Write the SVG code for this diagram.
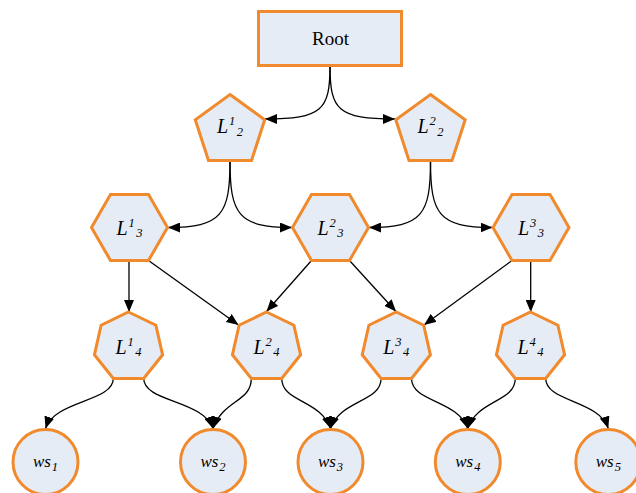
<svg xmlns="http://www.w3.org/2000/svg" width="636" height="493" viewBox="0 0 636 493">
  <style>
    .node { fill: #E6ECF6; stroke: #F08A2C; stroke-width: 3; stroke-linejoin: miter; }
    .edge { fill: none; stroke: #000; stroke-width: 1.3; marker-end: url(#arrow); }
    .root { font-family: "Liberation Serif", "Times New Roman", serif; font-size: 19px; fill: #000; }
    .lbl { font-family: "Liberation Serif", "Times New Roman", serif; font-style: italic; font-size: 20px; fill: #000; }
    .ws { font-family: "Liberation Serif", "Times New Roman", serif; font-style: italic; font-size: 17px; fill: #000; }
    .sm { font-size: 12.5px; }
  </style>
  <defs>
    <marker id="arrow" markerUnits="userSpaceOnUse" markerWidth="12" markerHeight="10" refX="12" refY="5" orient="auto">
      <path d="M0,0 L12,5 L0,10 Z" fill="#000"/>
    </marker>
  </defs>

  <!-- connectors -->
  <g id="connectors">
    <!-- root to level 2 -->
    <path class="edge" d="M330,66 C330,110 322,119 265,119"/>
    <path class="edge" d="M330,66 C330,110 338,119 395,119"/>
    <!-- level 2 to level 3 -->
    <path class="edge" d="M230,161 C230,214 222,227.5 168,227.5"/>
    <path class="edge" d="M230,161 C230,214 238,227.5 292,227.5"/>
    <path class="edge" d="M430.5,161 C430.5,214 422.5,227.5 369,227.5"/>
    <path class="edge" d="M430.5,161 C430.5,214 438.5,227.5 492.5,227.5"/>
    <!-- level 3 to level 4 -->
    <path class="edge" d="M129,261 L129,312"/>
    <path class="edge" d="M148.5,260.5 L238.5,325"/>
    <path class="edge" d="M311.5,260.5 L266.5,311.5"/>
    <path class="edge" d="M349.5,260.5 L396,311.5"/>
    <path class="edge" d="M512,260.5 L424,325"/>
    <path class="edge" d="M530.7,261 L530.7,312"/>
    <!-- level 4 to leaves -->
    <path class="edge" d="M113.3,378.5 C113.3,402 55,400 45.5,428.5"/>
    <path class="edge" d="M143.7,378.5 C143.7,402 203,400 213,428.5"/>
    <path class="edge" d="M251.3,378.5 C251.3,402 223,400 213,428.5"/>
    <path class="edge" d="M281.7,378.5 C281.7,402 321,400 330.5,428.5"/>
    <path class="edge" d="M381.1,378.5 C381.1,402 340,400 330.5,428.5"/>
    <path class="edge" d="M411.5,378.5 C411.5,402 458,400 467.8,428.5"/>
    <path class="edge" d="M515.3,378.5 C515.3,402 477,400 467.8,428.5"/>
    <path class="edge" d="M545.7,378.5 C545.7,402 599,400 608.3,428.5"/>
  </g>

  <!-- root -->
  <g id="root">
    <rect class="node" x="258.5" y="11.5" width="143" height="54"/>
    <text class="root" x="330.5" y="45" text-anchor="middle">Root</text>
  </g>

  <!-- level 2: pentagons -->
  <g id="L2-1">
    <polygon class="node" points="230,94.5 264.7,119.7 251.5,160.5 208.5,160.5 195.3,119.7"/>
    <text class="lbl" x="230" y="133" text-anchor="middle">L<tspan class="sm" dx="1" dy="-8">1</tspan><tspan class="sm" dx="1.5" dy="10.5">2</tspan></text>
  </g>
  <g id="L2-2">
    <polygon class="node" points="430.5,94.5 465.2,119.7 452,160.5 409,160.5 395.8,119.7"/>
    <text class="lbl" x="430.5" y="133" text-anchor="middle">L<tspan class="sm" dx="1" dy="-8">2</tspan><tspan class="sm" dx="1.5" dy="10.5">2</tspan></text>
  </g>

  <!-- level 3: hexagons -->
  <g id="L3-1">
    <polygon class="node" points="91.5,227.5 110.5,194.5 148.5,194.5 167.5,227.5 148.5,260.5 110.5,260.5"/>
    <text class="lbl" x="129.5" y="234.5" text-anchor="middle">L<tspan class="sm" dx="1" dy="-8">1</tspan><tspan class="sm" dx="1.5" dy="10.5">3</tspan></text>
  </g>
  <g id="L3-2">
    <polygon class="node" points="292.5,227.5 311.5,194.5 349.5,194.5 368.5,227.5 349.5,260.5 311.5,260.5"/>
    <text class="lbl" x="330.5" y="234.5" text-anchor="middle">L<tspan class="sm" dx="1" dy="-8">2</tspan><tspan class="sm" dx="1.5" dy="10.5">3</tspan></text>
  </g>
  <g id="L3-3">
    <polygon class="node" points="493,227.5 512,194.5 550,194.5 569,227.5 550,260.5 512,260.5"/>
    <text class="lbl" x="531" y="234.5" text-anchor="middle">L<tspan class="sm" dx="1" dy="-8">3</tspan><tspan class="sm" dx="1.5" dy="10.5">3</tspan></text>
  </g>

  <!-- level 4: heptagons (R = 35) -->
  <g id="L4-1">
    <polygon class="node" points="128.5,312 155.9,325.2 162.6,354.8 143.7,378.5 113.3,378.5 94.4,354.8 101.1,325.2"/>
    <text class="lbl" x="128.5" y="353.5" text-anchor="middle">L<tspan class="sm" dx="1" dy="-8">1</tspan><tspan class="sm" dx="1.5" dy="10.5">4</tspan></text>
  </g>
  <g id="L4-2">
    <polygon class="node" points="266.5,312 293.9,325.2 300.6,354.8 281.7,378.5 251.3,378.5 232.4,354.8 239.1,325.2"/>
    <text class="lbl" x="266.5" y="353.5" text-anchor="middle">L<tspan class="sm" dx="1" dy="-8">2</tspan><tspan class="sm" dx="1.5" dy="10.5">4</tspan></text>
  </g>
  <g id="L4-3">
    <polygon class="node" points="396.3,312 423.7,325.2 430.4,354.8 411.5,378.5 381.1,378.5 362.2,354.8 368.9,325.2"/>
    <text class="lbl" x="396.3" y="353.5" text-anchor="middle">L<tspan class="sm" dx="1" dy="-8">3</tspan><tspan class="sm" dx="1.5" dy="10.5">4</tspan></text>
  </g>
  <g id="L4-4">
    <polygon class="node" points="530.5,312 557.9,325.2 564.6,354.8 545.7,378.5 515.3,378.5 496.4,354.8 503.1,325.2"/>
    <text class="lbl" x="530.5" y="353.5" text-anchor="middle">L<tspan class="sm" dx="1" dy="-8">4</tspan><tspan class="sm" dx="1.5" dy="10.5">4</tspan></text>
  </g>

  <!-- leaves: web services -->
  <g id="ws1">
    <circle class="node" cx="45.5" cy="462" r="32.5"/>
    <text class="ws" x="45.5" y="467" text-anchor="middle">ws<tspan class="sm" dx="1" dy="4">1</tspan></text>
  </g>
  <g id="ws2">
    <circle class="node" cx="213" cy="462" r="32.5"/>
    <text class="ws" x="213" y="467" text-anchor="middle">ws<tspan class="sm" dx="1" dy="4">2</tspan></text>
  </g>
  <g id="ws3">
    <circle class="node" cx="330.5" cy="462" r="32.5"/>
    <text class="ws" x="330.5" y="467" text-anchor="middle">ws<tspan class="sm" dx="1" dy="4">3</tspan></text>
  </g>
  <g id="ws4">
    <circle class="node" cx="467.8" cy="462" r="32.5"/>
    <text class="ws" x="467.8" y="467" text-anchor="middle">ws<tspan class="sm" dx="1" dy="4">4</tspan></text>
  </g>
  <g id="ws5">
    <circle class="node" cx="608.3" cy="462" r="32.5"/>
    <text class="ws" x="608.3" y="467" text-anchor="middle">ws<tspan class="sm" dx="1" dy="4">5</tspan></text>
  </g>
</svg>
